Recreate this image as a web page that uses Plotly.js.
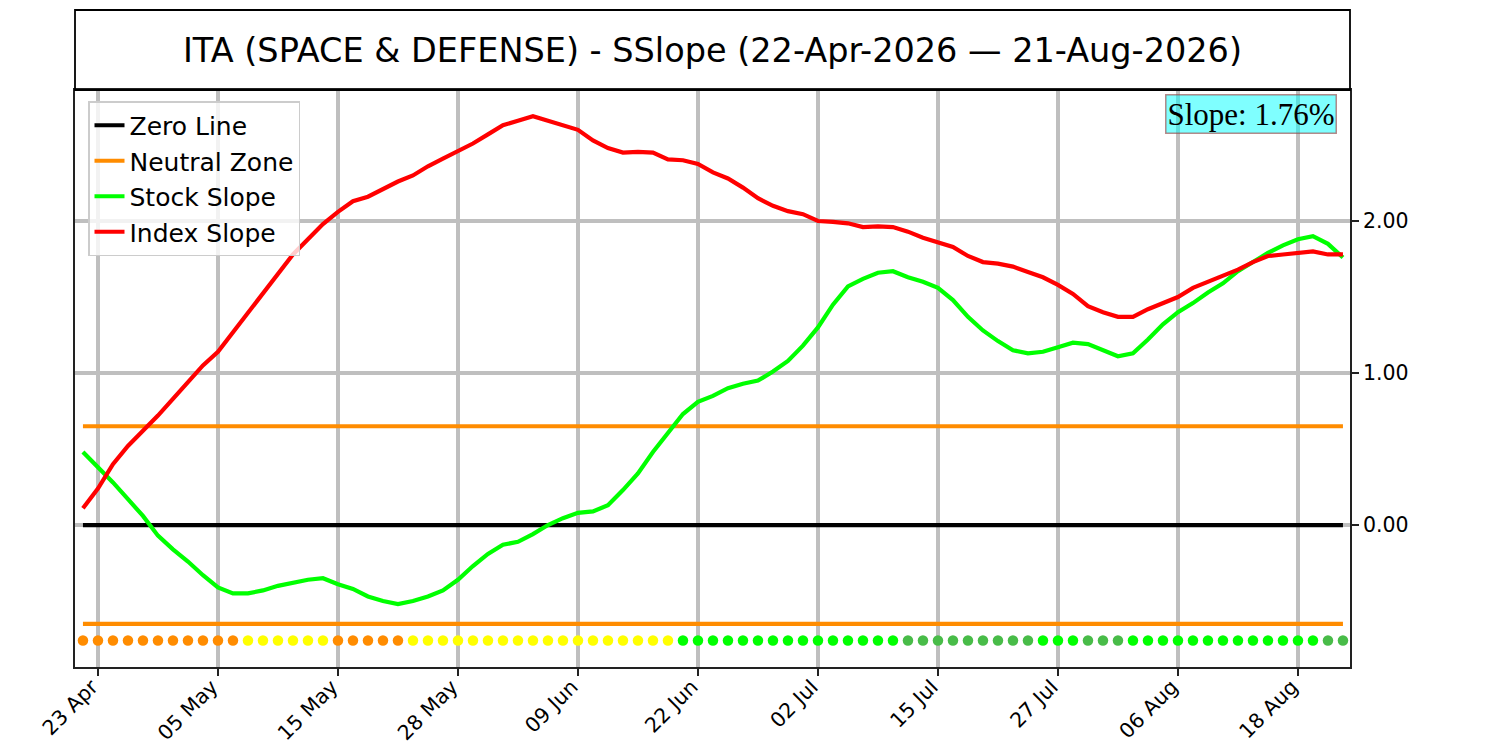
<!DOCTYPE html>
<html>
<head>
<meta charset="utf-8">
<script src="https://cdn.plot.ly/plotly-3.0.1.min.js"></script>
<style>
  body { margin: 0; background: #fff; }
  #plot { width: 1500px; height: 750px; }
</style>
</head>
<body>
<div id="plot"></div>
<script>
// trading days 22 Apr 2026 - 21 Aug 2026
var dates = [
  "22 Apr", "23 Apr", "24 Apr", "27 Apr", "28 Apr", "29 Apr", "30 Apr",
  "01 May", "04 May", "05 May", "06 May", "07 May", "08 May", "11 May", "12 May", "13 May", "14 May", "15 May",
  "18 May", "19 May", "20 May", "21 May", "22 May", "26 May", "27 May", "28 May", "29 May",
  "01 Jun", "02 Jun", "03 Jun", "04 Jun", "05 Jun", "08 Jun", "09 Jun", "10 Jun", "11 Jun", "12 Jun",
  "15 Jun", "16 Jun", "17 Jun", "18 Jun", "22 Jun", "23 Jun", "24 Jun", "25 Jun", "26 Jun", "29 Jun", "30 Jun",
  "01 Jul", "02 Jul", "06 Jul", "07 Jul", "08 Jul", "09 Jul", "10 Jul", "13 Jul", "14 Jul", "15 Jul",
  "16 Jul", "17 Jul", "20 Jul", "21 Jul", "22 Jul", "23 Jul", "24 Jul", "27 Jul", "28 Jul", "29 Jul", "30 Jul", "31 Jul",
  "03 Aug", "04 Aug", "05 Aug", "06 Aug", "07 Aug", "10 Aug", "11 Aug", "12 Aug", "13 Aug", "14 Aug",
  "17 Aug", "18 Aug", "19 Aug", "20 Aug", "21 Aug"
];

var tickLabels = ["23 Apr", "05 May", "15 May", "28 May", "09 Jun", "22 Jun",
                  "02 Jul", "15 Jul", "27 Jul", "06 Aug", "18 Aug"];

var stockSlope = [
  0.48, 0.38, 0.28, 0.17, 0.06, -0.07, -0.16, -0.24, -0.33, -0.41,
  -0.45, -0.45, -0.43, -0.40, -0.38, -0.36, -0.35, -0.39, -0.42, -0.47,
  -0.50, -0.52, -0.50, -0.47, -0.43, -0.36, -0.27, -0.19, -0.13, -0.11,
  -0.06, 0.00, 0.045, 0.08, 0.09, 0.13, 0.23, 0.34, 0.48, 0.61,
  0.73, 0.81, 0.85, 0.90, 0.93, 0.95, 1.01, 1.08, 1.18, 1.30,
  1.45, 1.57, 1.62, 1.66, 1.67, 1.63, 1.60, 1.56, 1.48, 1.37,
  1.28, 1.21, 1.15, 1.13, 1.14, 1.17, 1.20, 1.19, 1.15, 1.11,
  1.13, 1.22, 1.32, 1.40, 1.46, 1.53, 1.59, 1.67, 1.73, 1.79,
  1.84, 1.88, 1.90, 1.85, 1.76
];

var indexSlope = [
  0.11, 0.24, 0.40, 0.52, 0.62, 0.72, 0.83, 0.94, 1.05, 1.14,
  1.27, 1.39, 1.53, 1.66, 1.78, 1.88, 1.98, 2.06, 2.13, 2.16,
  2.21, 2.26, 2.30, 2.36, 2.41, 2.46, 2.51, 2.57, 2.63, 2.66,
  2.69, 2.66, 2.63, 2.60, 2.53, 2.48, 2.45, 2.455, 2.45, 2.405,
  2.40, 2.375, 2.32, 2.28, 2.22, 2.15, 2.10, 2.065, 2.045, 2.00,
  1.995, 1.985, 1.96, 1.965, 1.96, 1.93, 1.89, 1.86, 1.83, 1.77,
  1.73, 1.72, 1.70, 1.665, 1.63, 1.58, 1.52, 1.44, 1.40, 1.37,
  1.37, 1.42, 1.46, 1.50, 1.56, 1.60, 1.645, 1.68, 1.73, 1.77,
  1.78, 1.79, 1.80, 1.78, 1.78
];

// daily state dots: O = bearish, Y = neutral, G = bullish, D = weak bullish
var states = [
  "O","O","O","O","O","O","O","O","O","O","O",
  "Y","Y","Y","Y","Y","Y",
  "O","O","O","O","O",
  "Y","Y","Y","Y","Y","Y","Y","Y","Y","Y","Y","Y","Y","Y","Y","Y","Y","Y",
  "G","G","G","G","G","G","G","G","G","G","G","G","G","G","G",
  "D","D","D","D","D","D","D","D","D",
  "G","G","G",
  "D","D","D",
  "G","G","G","G","G","G","G","G","G","G","G","G","G",
  "D","D"
];

var neutralBand = 0.65;

var stateColors = { O: "#ff8c00", Y: "#ffff00", G: "#00ff00", D: "#48bc48" };
var dotLevel = -0.76;
var first = dates[0], last = dates[dates.length - 1];

var traces = [
  {
    x: [first, last], y: [0, 0], mode: "lines", name: "Zero Line",
    line: { color: "#000000", width: 4.2 }
  },
  {
    x: [first, last], y: [neutralBand, neutralBand], mode: "lines", name: "Neutral Zone",
    legendgroup: "nz", line: { color: "#ff8c00", width: 4.2 }
  },
  {
    x: [first, last], y: [-neutralBand, -neutralBand], mode: "lines", name: "Neutral Zone",
    legendgroup: "nz", showlegend: false, line: { color: "#ff8c00", width: 4.2 }
  },
  {
    x: dates, y: stockSlope, mode: "lines", name: "Stock Slope",
    line: { color: "#00ff00", width: 4.2 }
  },
  {
    x: dates, y: indexSlope, mode: "lines", name: "Index Slope",
    line: { color: "#ff0000", width: 4.2 }
  },
  {
    x: dates, y: dates.map(function () { return dotLevel; }), mode: "markers",
    showlegend: false,
    marker: { size: 10.5, color: states.map(function (s) { return stateColors[s]; }) }
  }
];

var plotH = 577;
var layout = {
  width: 1500,
  height: 750,
  margin: { l: 75, r: 150, t: 90, b: 83 },
  paper_bgcolor: "#ffffff",
  plot_bgcolor: "#ffffff",
  font: { family: "DejaVu Sans", color: "#000000" },
  title: {
    text: "ITA (SPACE & DEFENSE) - SSlope (22-Apr-2026 \u2014 21-Aug-2026)",
    font: { family: "DejaVu Sans", size: 33.5, color: "#000000" },
    x: 0.5, xref: "paper", xanchor: "center",
    y: 1 - 50 / 750, yref: "container", yanchor: "middle"
  },
  xaxis: {
    type: "category",
    categoryorder: "array",
    categoryarray: dates,
    range: [-0.53, 84.47],
    tickmode: "array",
    tickvals: tickLabels,
    ticktext: tickLabels,
    tickangle: -45,
    tickfont: { size: 20.5 },
    ticklabelshift: -6,
    ticklabelstandoff: -9,
    ticks: "outside", ticklen: 7, tickwidth: 1.8, tickcolor: "#222",
    showgrid: true, gridcolor: "#bfbfbf", gridwidth: 4,
    showline: true, mirror: true, linecolor: "#222", linewidth: 1.8,
    zeroline: false
  },
  yaxis: {
    side: "right",
    range: [-0.934, 2.862],
    tickmode: "array",
    tickvals: [0, 1, 2],
    ticktext: ["0.00", "1.00", "2.00"],
    tickfont: { size: 20.5 },
    ticks: "outside", ticklen: 7, tickwidth: 1.8, tickcolor: "#222",
    showgrid: true, gridcolor: "#bfbfbf", gridwidth: 4,
    showline: true, mirror: true, linecolor: "#222", linewidth: 1.8,
    zeroline: false
  },
  legend: {
    x: 13 / 1275, y: 1 - 11 / plotH, xanchor: "left", yanchor: "top",
    font: { family: "DejaVu Sans", size: 25 },
    bgcolor: "rgba(255,255,255,0.8)", bordercolor: "#cccccc", borderwidth: 1.5,
    itemwidth: 30, tracegroupgap: 0
  },
  shapes: [
    {
      type: "rect", xref: "paper", yref: "paper",
      x0: 0, x1: 1, y0: 1, y1: 1 + 80 / plotH,
      line: { color: "#000", width: 1.8 }, fillcolor: "rgba(0,0,0,0)"
    }
  ],
  annotations: [
    {
      xref: "paper", yref: "paper",
      x: 1 - 13 / 1275, y: 1 - 4 / plotH, xanchor: "right", yanchor: "top",
      text: "Slope: " + stockSlope[stockSlope.length - 1].toFixed(2) + "%",
      showarrow: false,
      font: { family: "Liberation Serif", size: 31, color: "#000" },
      bgcolor: "rgba(0,255,255,0.5)",
      bordercolor: "rgba(150,60,60,0.6)", borderwidth: 1.5, borderpad: 1
    }
  ],
  showlegend: true
};

Plotly.newPlot("plot", traces, layout, { staticPlot: true });
</script>
</body>
</html>
